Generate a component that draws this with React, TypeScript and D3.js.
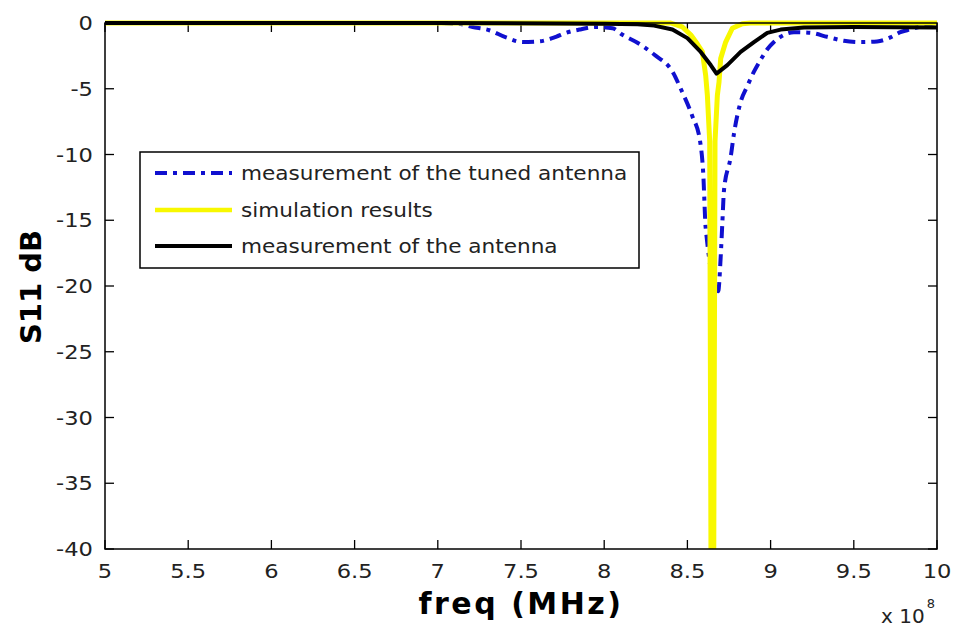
import React from "react";
import * as d3 from "d3";

// ---- data (frequency in units of 1e8 Hz, S11 in dB) ----
const xTicks = [5, 5.5, 6, 6.5, 7, 7.5, 8, 8.5, 9, 9.5, 10];
const xTickLabels = ["5", "5.5", "6", "6.5", "7", "7.5", "8", "8.5", "9", "9.5", "10"];
const yTicks = [0, -5, -10, -15, -20, -25, -30, -35, -40];
const yTickLabels = ["0", "-5", "-10", "-15", "-20", "-25", "-30", "-35", "-40"];

const tunedFreq = [5, 6, 7, 7.12, 7.21, 7.31, 7.41, 7.51, 7.61, 7.71, 7.77, 7.85, 7.95, 8.05, 8.11, 8.2, 8.3, 8.415, 8.46, 8.53, 8.575, 8.595, 8.61, 8.685, 8.7, 8.71, 8.72, 8.76, 8.78, 8.82, 8.86, 8.9, 8.94, 8.98, 9.02, 9.06, 9.14, 9.24, 9.34, 9.44, 9.54, 9.64, 9.72, 9.78, 9.82, 9.94, 10];
const tunedDb = [0, 0, 0, -0.05, -0.3, -0.55, -1.1, -1.45, -1.4, -1.05, -0.75, -0.5, -0.3, -0.4, -0.9, -1.5, -2.4, -3.8, -5.0, -7.1, -8.9, -11.4, -15.6, -20.4, -17.8, -15.2, -12.7, -10.2, -8.4, -6.0, -4.8, -3.7, -2.8, -2.0, -1.45, -1.05, -0.7, -0.75, -1.05, -1.35, -1.45, -1.4, -1.1, -0.7, -0.55, -0.15, 0];

const simFreq = [5, 8.4, 8.47, 8.52, 8.56, 8.59, 8.61, 8.62, 8.634, 8.642, 8.658, 8.666, 8.68, 8.69, 8.7, 8.73, 8.77, 8.83, 8.88, 10];
const simDb = [0, 0, -0.3, -0.9, -1.6, -2.2, -4, -5.5, -9, -42, -42, -9, -5.5, -4.5, -2.7, -1.45, -0.4, -0.05, 0, 0];

const antFreq = [5, 7, 8.0, 8.2, 8.3, 8.41, 8.5, 8.58, 8.64, 8.675, 8.74, 8.82, 8.9, 8.98, 9.06, 9.2, 9.5, 10];
const antDb = [0, 0, -0.05, -0.1, -0.2, -0.5, -1.15, -2.2, -3.2, -3.85, -3.2, -2.2, -1.45, -0.75, -0.5, -0.35, -0.3, -0.35];

const legendLabels = ["measurement of the tuned antenna", "simulation results", "measurement of the antenna"];

const W = 954;
const H = 630;
const L = 105, R = 937, T = 23, B = 549;

export default function App() {
  const x = d3.scaleLinear().domain([5, 10]).range([L, R]);
  const y = d3.scaleLinear().domain([-40, 0]).range([B, T]);

  const mk = (fx: number[], dy: number[], curve: any) =>
    d3.line<number>().x((_, i) => x(fx[i])).y((_, i) => y(dy[i])).curve(curve)(fx) || "";

  const tunedPath = mk(tunedFreq, tunedDb, d3.curveMonotoneX);
  const simPath = mk(simFreq, simDb, d3.curveLinear);
  const antPath = mk(antFreq, antDb, d3.curveLinear);

  const font = "'DejaVu Sans', Verdana, sans-serif";
  const tickLen = 9;
  const blue = "#1010cf";
  const yellow = "#f8f800";
  const tickStretch = 1.13;
  const legStretch = 1.08;

  const legX = 140, legY = 152, legW = 499, legH = 116;
  const rowY = [173, 210, 246];
  const legendStyles = [
    { stroke: blue, dash: "12,6,4,6", w: 4 },
    { stroke: yellow, dash: "", w: 4.5 },
    { stroke: "#000", dash: "", w: 4 },
  ];

  return (
    <svg width={W} height={H} style={{ position: "absolute", left: 0, top: 0, background: "#fff" }}>
      <defs>
        <clipPath id="plotclip">
          <rect x={L} y={T - 3} width={R - L} height={B - T + 3} />
        </clipPath>
      </defs>
      <rect x={0} y={0} width={W} height={H} fill="#fff" />

      {/* ticks */}
      {xTicks.map((t, i) => (
        <g key={"xt" + i}>
          <line x1={x(t)} x2={x(t)} y1={B} y2={B - tickLen} stroke="#000" strokeWidth={1.3} />
          <line x1={x(t)} x2={x(t)} y1={T} y2={T + tickLen} stroke="#000" strokeWidth={1.3} />
          <text transform={`translate(${x(t)},578) scale(${tickStretch},1)`} textAnchor="middle"
            fontFamily={font} fontSize={20} fill="#222">
            {xTickLabels[i]}
          </text>
        </g>
      ))}
      {yTicks.map((t, i) => (
        <g key={"yt" + i}>
          <line x1={L} x2={L + tickLen} y1={y(t)} y2={y(t)} stroke="#000" strokeWidth={1.3} />
          <line x1={R} x2={R - tickLen} y1={y(t)} y2={y(t)} stroke="#000" strokeWidth={1.3} />
          <text transform={`translate(93,${y(t) + 7}) scale(${tickStretch},1)`} textAnchor="end"
            fontFamily={font} fontSize={20} fill="#222">
            {yTickLabels[i]}
          </text>
        </g>
      ))}

      {/* curves */}
      <g clipPath="url(#plotclip)">
        <path d={tunedPath} fill="none" stroke={blue} strokeWidth={4} strokeDasharray="12,6,4,6" />
        <path d={simPath} fill="none" stroke={yellow} strokeWidth={5} strokeLinejoin="round" />
        <path d={antPath} fill="none" stroke="#000" strokeWidth={4} strokeLinejoin="round" />
      </g>

      {/* axes box */}
      <rect x={L} y={T} width={R - L} height={B - T} fill="none" stroke="#000" strokeWidth={1.5} />

      {/* legend */}
      <rect x={legX} y={legY} width={legW} height={legH} fill="#fff" stroke="#000" strokeWidth={1.5} />
      {legendLabels.map((lab, i) => (
        <g key={"lg" + i}>
          <line x1={155} x2={232} y1={rowY[i]} y2={rowY[i]} stroke={legendStyles[i].stroke}
            strokeWidth={legendStyles[i].w} strokeDasharray={legendStyles[i].dash || undefined} />
          <text transform={`translate(241,${rowY[i] + 7}) scale(${legStretch},1)`}
            fontFamily={font} fontSize={20} fill="#222">{lab}</text>
        </g>
      ))}

      {/* axis labels */}
      <text x={(L + R) / 2} y={614} textAnchor="middle" fontFamily={font} fontWeight="bold" fontSize={30}
        letterSpacing={2.5} fill="#000">freq (MHz)</text>
      <text transform="translate(41,287) rotate(-90)" textAnchor="middle" fontFamily={font} fontWeight="bold"
        fontSize={29} fill="#000">S11 dB</text>

      {/* exponent */}
      <text x={881} y={623} fontFamily={font} fontSize={20} fill="#222">
        x 10<tspan dx={2} dy={-15} fontSize={13}>8</tspan>
      </text>
    </svg>
  );
}
